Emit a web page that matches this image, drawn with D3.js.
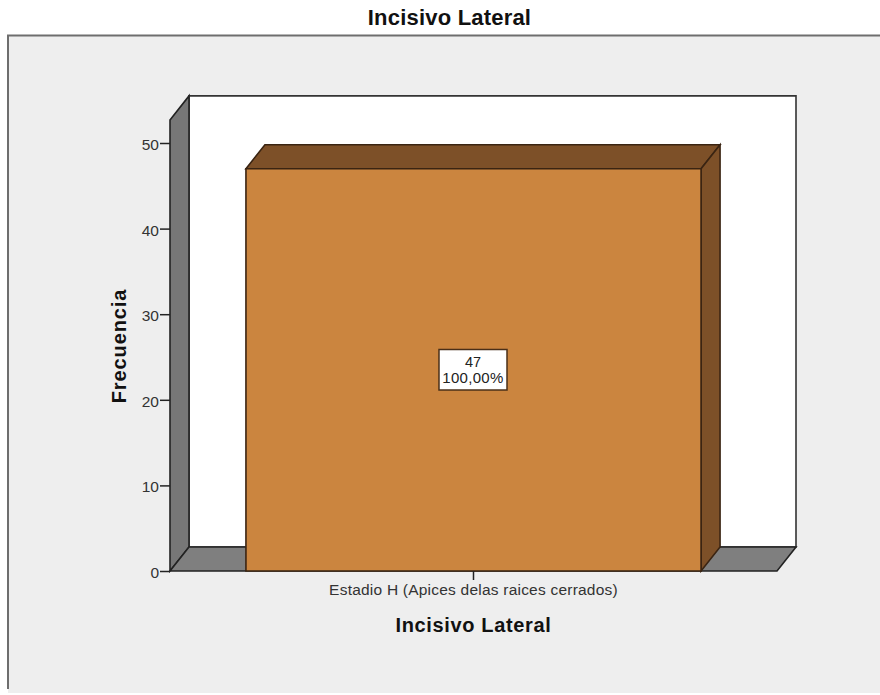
<!DOCTYPE html>
<html><head><meta charset="utf-8">
<script src="https://cdn.jsdelivr.net/npm/d3@7/dist/d3.min.js"></script>
<style>html,body{margin:0;padding:0;background:#fff}svg{display:block}text{font-family:"Liberation Sans",Arial,sans-serif}</style>
</head><body><div id="chart"></div>
<script>
const categories = ["Estadio H (Apices delas raices cerrados)"];
const counts = [47];
const percents = ["100,00%"];
const yTicks = [0, 10, 20, 30, 40, 50];
const chartTitle = "Incisivo Lateral";
const xTitle = "Incisivo Lateral";
const yTitle = "Frecuencia";

const W = 880, H = 695;
const depthX = 19, depthY = -24;
const svg = d3.select("#chart").append("svg").attr("width", W).attr("height", H);

const x = d3.scaleBand().domain(categories).range([170, 777]).padding(0.143);
const y = d3.scaleLinear().domain([0, 50]).range([571, 143]);
const wallTop = y(52.7);
const line = "#222";
const barLine = "#3a2412";

// outer frame
svg.append("rect").attr("x", 0).attr("y", 0).attr("width", W).attr("height", H).attr("fill", "#fff");
svg.append("rect").attr("x", 8).attr("y", 35).attr("width", W - 8).attr("height", 658).attr("fill", "#eeeeee");
svg.append("path").attr("d", `M8,689V35.5H${W}`).attr("fill", "none").attr("stroke", "#6e6e6e").attr("stroke-width", 2);

svg.append("text").attr("x", 449.5).attr("y", 25).attr("text-anchor", "middle")
  .attr("font-size", 22).attr("font-weight", 700).attr("letter-spacing", 0.2).attr("fill", "#111").text(chartTitle);

const [xl, xr] = x.range();
const poly = (pts, fill, stroke = line, sw = 1.6) => svg.append("polygon").attr("points", pts.map(p => p.join(",")).join(" "))
  .attr("fill", fill).attr("stroke", stroke).attr("stroke-width", sw).attr("stroke-linejoin", "miter");

// back wall
poly([[xl + depthX, wallTop + depthY], [xr + depthX, wallTop + depthY], [xr + depthX, y(0) + depthY], [xl + depthX, y(0) + depthY]], "#fff", "#333");
// left wall
poly([[xl, wallTop], [xl + depthX, wallTop + depthY], [xl + depthX, y(0) + depthY], [xl, y(0)]], "#777777");
// floor
poly([[xl, y(0)], [xl + depthX, y(0) + depthY], [xr + depthX, y(0) + depthY], [xr, y(0)]], "#7f7f7f");

// bars
categories.forEach((c, i) => {
  const bx = x(c), bw = x.bandwidth(), by = y(counts[i]), b0 = y(0);
  poly([[bx, by], [bx + depthX, by + depthY], [bx + bw + depthX, by + depthY], [bx + bw, by]], "#7d5028", barLine);
  poly([[bx + bw, by], [bx + bw + depthX, by + depthY], [bx + bw + depthX, b0 + depthY], [bx + bw, b0]], "#7d5028", barLine);
  poly([[bx, by], [bx + bw, by], [bx + bw, b0], [bx, b0]], "#cb853f", barLine);

  const cx = bx + bw / 2 - 0.5;
  svg.append("rect").attr("x", cx - 34).attr("y", 349.5).attr("width", 68).attr("height", 40.5)
    .attr("fill", "#fff").attr("stroke", "#4a2f18").attr("stroke-width", 1.5);
  svg.append("text").attr("x", cx).attr("y", 367).attr("text-anchor", "middle").attr("font-size", 14.5).attr("fill", "#222").text(counts[i]);
  svg.append("text").attr("x", cx).attr("y", 383).attr("text-anchor", "middle").attr("font-size", 15).attr("letter-spacing", 0.3).attr("fill", "#222").text(percents[i]);
});

// y axis
const yAxis = d3.axisLeft(y).tickValues(yTicks).tickSize(10).tickPadding(1);
const gy = svg.append("g").attr("transform", `translate(${xl},0)`).call(yAxis);
gy.select(".domain").remove();
gy.selectAll("line").attr("stroke", line).attr("stroke-width", 1.5);
gy.selectAll("text").attr("font-size", 15.5).attr("dy", "0.42em").attr("fill", "#333").attr("font-family", '"Liberation Sans",Arial,sans-serif');

// x axis
const xAxis = d3.axisBottom(x).tickSize(9).tickPadding(4);
const gx = svg.append("g").attr("transform", `translate(0,${y(0)})`).call(xAxis);
gx.select(".domain").remove();
gx.selectAll("line").attr("stroke", line).attr("stroke-width", 1.5);
gx.selectAll("text").attr("font-size", 15.5).attr("letter-spacing", 0.22).attr("fill", "#333").attr("font-family", '"Liberation Sans",Arial,sans-serif');

svg.append("text").attr("x", 473.5).attr("y", 632).attr("text-anchor", "middle")
  .attr("font-size", 20).attr("font-weight", 700).attr("letter-spacing", 0.65).attr("fill", "#111").text(xTitle);
svg.append("text").attr("transform", "translate(126,346) rotate(-90)").attr("text-anchor", "middle")
  .attr("font-size", 20).attr("font-weight", 700).attr("letter-spacing", 0.9).attr("fill", "#111").text(yTitle);
</script></body></html>
